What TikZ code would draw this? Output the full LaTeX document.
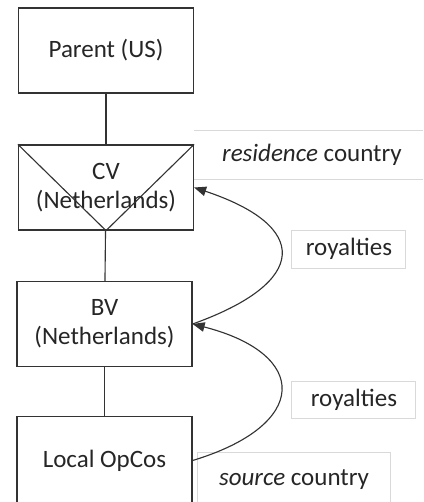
\documentclass[tikz,border=0pt]{standalone}
\usepackage{fontspec}
\setmainfont{Carlito}
\usetikzlibrary{arrows.meta}
\tikzset{
  entity/.style={draw=black!80,line width=0.5pt,minimum width=70pt,minimum height=34pt,inner sep=0pt,align=center,text=black!85},
  tag/.style={draw=black!15,line width=0.4pt,inner sep=0pt,text=black!85},
  royarrow/.style={draw=black!80,line width=0.45pt,-{Triangle[length=4.8pt,width=3.8pt]}}
}
\begin{document}
\begin{tikzpicture}[x=0.4pt,y=-0.4pt,font=\fontsize{10}{11.6}\selectfont]
  \clip (0,0) rectangle (423,502);
  \node[entity] (parent) at (106,50.5) {Parent (US)};
  \node[entity] (cv) at (106,187.5) {CV\\(Netherlands)};
  \node[entity] (bv) at (104.5,324) {BV\\(Netherlands)};
  \node[entity,minimum height=35pt] (opcos) at (104.5,460.5) {Local OpCos};
  \draw[black!80,line width=0.45pt] (cv.north west) -- (cv.south) -- (cv.north east);
  \draw[black!80,line width=0.45pt] (parent) -- (cv);
  \draw[black!80,line width=0.45pt] (cv) -- (bv);
  \draw[black!80,line width=0.45pt] (bv) -- (opcos);
  \node[minimum width=94pt,minimum height=19.2pt,inner sep=0pt,text=black!85] (residence) at (312,155) {\textit{residence} country};
  \draw[black!15,line width=0.4pt] (residence.north west) -- (residence.north east);
  \draw[black!15,line width=0.4pt] (residence.south west) -- (residence.south east);
  \node[tag,minimum width=45.6pt,minimum height=15.2pt] (roy1) at (349,249) {royalties};
  \node[tag,minimum width=49.6pt,minimum height=14.8pt] (roy2) at (354,399.5) {royalties};
  \node[tag,minimum width=76.8pt,minimum height=22.4pt] (source) at (294,480) {\textit{source} country};
  \draw[royarrow] (bv.east) .. controls (310,282) and (310,226) .. (cv.east);
  \draw[royarrow] (opcos.east) .. controls (310,425) and (310,354) .. (bv.east);
\end{tikzpicture}
\end{document}
